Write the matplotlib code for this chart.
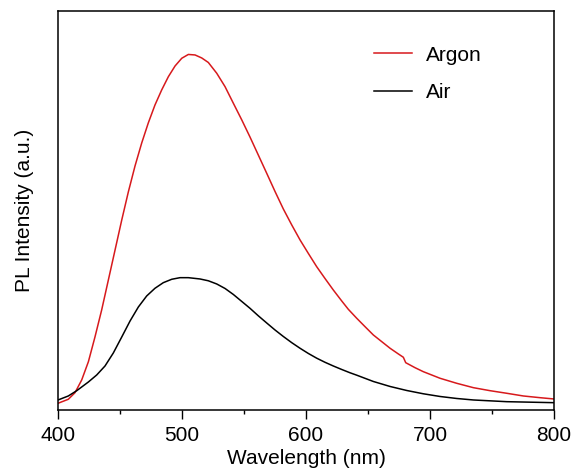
import matplotlib
matplotlib.use("Agg")
import matplotlib.pyplot as plt
from matplotlib.ticker import MultipleLocator

plt.rcParams['font.family'] = ['Liberation Sans', 'DejaVu Sans']

# spectra (arbitrary units)
argon_nm = [400, 408.3, 413.7, 419.1, 424.5, 429.8, 435.2, 440.6, 446.0, 451.4, 456.7,
            462.1, 467.5, 472.8, 478.2, 483.6, 489.0, 494.4, 499.8, 505.1, 510.5,
            515.9, 521.2, 528.0, 534.7, 541.4, 548.2, 554.8, 561.5, 568.3, 575.0,
            581.7, 588.5, 595.2, 601.9, 608.6, 615.3, 622.0, 628.8, 634.1, 640.9,
            647.6, 654.3, 661.1, 667.8, 674.5, 678.5, 680.4, 687.9, 694.6, 708.1,
            721.5, 735.0, 748.4, 761.9, 775.3, 788.7, 800]
argon_pl = [6.7, 10.7, 17.3, 30, 48.3, 73, 100, 130, 160, 190, 218,
            244, 267, 287, 305, 320, 333.3, 344, 351.7, 355.5, 355,
            352, 347.5, 336.7, 323.3, 306.7, 290, 273, 255, 236.7, 218.5,
            201, 185, 170, 156.5, 143.3, 131.5, 120, 109, 100.7, 91.7,
            83.3, 75, 68.3, 61.7, 56, 52.7, 47.3, 42.3, 38.3, 31.7,
            26.7, 22.3, 19.3, 16.7, 14, 12.3, 11]

air_nm = [400, 408.3, 415.1, 424.5, 431.2, 437.9, 444.6, 451.4, 458.1, 464.8, 471.5,
          478.2, 484.9, 491.7, 498.4, 505.1, 514.5, 521.2, 528.0, 534.7, 541.4,
          548.2, 554.8, 561.5, 568.3, 575.0, 581.7, 588.5, 595.2, 601.9, 608.6,
          615.3, 622.0, 628.8, 635.5, 640.9, 654.3, 667.8, 681.2, 694.6, 708.1,
          721.5, 735.0, 761.9, 800]
air_pl = [10, 14, 19.3, 28, 35, 44, 57, 73, 89, 103, 114,
          121.7, 127.3, 130.7, 132.3, 132.3, 131, 129.2, 126, 121.5, 115.5,
          108.5, 101.7, 94.2, 87, 80, 73.5, 67.3, 61.7, 56.5, 51.8,
          47.7, 44, 40.5, 37.2, 34.8, 28.5, 23.5, 19.5, 16.2, 13.5,
          11.5, 10, 8.3, 7.3]

fig = plt.figure(figsize=(5.75, 4.7), dpi=100)
ax = fig.add_axes([0.1009, 0.1277, 0.8626, 0.849])

ax.plot(argon_nm, argon_pl, color='#d7191c', lw=1.1, label='Argon')
ax.plot(air_nm, air_pl, color='black', lw=1.1, label='Air')

ax.set_xlim(400, 800)
ax.set_ylim(0, 399)
ax.xaxis.set_major_locator(MultipleLocator(100))
ax.xaxis.set_minor_locator(MultipleLocator(50))
ax.set_yticks([])
ax.tick_params(axis='x', which='major', direction='out', length=6.5, width=1, labelsize=15, pad=5)
ax.tick_params(axis='x', which='minor', direction='out', length=3.1, width=1)
for s in ax.spines.values():
    s.set_linewidth(1.1)

ax.set_xlabel('Wavelength (nm)', fontsize=15, labelpad=3)
ax.set_ylabel('PL Intensity (a.u.)', fontsize=15, labelpad=17)

ax.legend(loc='upper left', bbox_to_anchor=(0.6, 0.96), frameon=False, fontsize=15,
          handlelength=1.8, handletextpad=0.7, labelspacing=0.9)

fig.savefig('out.png', dpi=100)
